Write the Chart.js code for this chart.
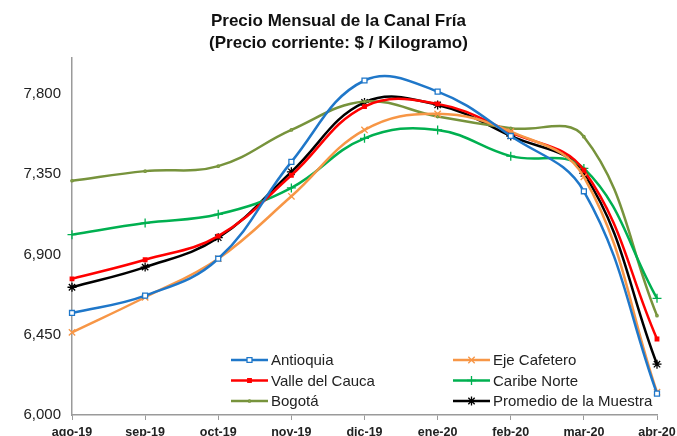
<!DOCTYPE html>
<html>
<head>
<meta charset="utf-8">
<script src="https://cdn.jsdelivr.net/npm/chart.js@4"></script>
<style>
  body { margin: 0; background: #fff; }
  #wrap { width: 677px; height: 436px; }
</style>
</head>
<body>
<div id="wrap"><canvas id="myChart"></canvas></div>
<script>
const months = ["ago-19", "sep-19", "oct-19", "nov-19", "dic-19", "ene-20", "feb-20", "mar-20", "abr-20"];
const antioquia = [6572, 6669, 6876, 7419, 7875, 7813, 7564, 7254, 6120];
const ejeCafetero = [6463, 6660, 6876, 7226, 7598, 7688, 7588, 7335, 6128];
const valleDelCauca = [6763, 6870, 7003, 7344, 7729, 7744, 7584, 7372, 6426];
const caribeNorte = [7011, 7076, 7125, 7273, 7551, 7598, 7451, 7382, 6654];
const bogota = [7313, 7367, 7395, 7598, 7757, 7673, 7607, 7560, 6557];
const promedio = [6716, 6829, 6994, 7363, 7752, 7738, 7564, 7354, 6285];
const yTicks = [6000, 6450, 6900, 7350, 7800];
const titleLines = ["Precio Mensual de la Canal Fría", "(Precio corriente: $ / Kilogramo)"];

Chart.defaults.font.family = "'Liberation Sans', Arial, sans-serif";
Chart.defaults.color = "#222";

function series(label, data, color, style, radius, fill) {
  return {
    label: label,
    data: data,
    borderColor: color,
    backgroundColor: color,
    borderWidth: 2.5,
    tension: 0.4,
    pointStyle: style,
    pointRadius: radius,
    pointBorderColor: color,
    pointBackgroundColor: fill,
    pointBorderWidth: 1.3,
  };
}

// legend drawn inside the plot, two columns like the original
const insideLegend = {
  id: "insideLegend",
  afterDraw(chart) {
    const ctx = chart.ctx;
    ctx.save();
    chart.data.datasets.forEach((ds, i) => {
      const x0 = i % 2 === 0 ? 231 : 453;
      const y = 360 + Math.floor(i / 2) * 20.5;
      ctx.strokeStyle = ds.borderColor;
      ctx.lineWidth = 2.5;
      ctx.beginPath();
      ctx.moveTo(x0, y);
      ctx.lineTo(x0 + 37, y);
      ctx.stroke();
      ctx.fillStyle = ds.pointBackgroundColor;
      ctx.strokeStyle = ds.borderColor;
      ctx.lineWidth = 1.3;
      Chart.helpers.drawPoint(ctx, {
        pointStyle: ds.pointStyle,
        radius: ds.pointRadius,
        rotation: 0,
        borderWidth: 1.3,
      }, x0 + 18.5, y);
      ctx.fillStyle = "#222";
      ctx.font = "15px 'Liberation Sans', Arial, sans-serif";
      ctx.textBaseline = "middle";
      ctx.textAlign = "left";
      ctx.fillText(ds.label, x0 + 40, y + 1);
    });
    ctx.restore();
  },
};

var ctx = document.getElementById("myChart").getContext("2d");
var chart = new Chart(ctx, {
  type: "line",
  data: {
    labels: months,
    datasets: [
      series("Antioquia", antioquia, "#1F77C9", "rect", 3.5, "#ffffff"),
      series("Eje Cafetero", ejeCafetero, "#F79646", "crossRot", 4.5, "#F79646"),
      series("Valle del Cauca", valleDelCauca, "#FF0000", "rect", 2.5, "#FF0000"),
      series("Caribe Norte", caribeNorte, "#00B050", "cross", 4.5, "#00B050"),
      series("Bogotá", bogota, "#77933C", "circle", 1.2, "#9BBB59"),
      series("Promedio de la Muestra", promedio, "#000000", "star", 4.5, "#000000"),
    ],
  },
  options: {
    animation: { duration: 0 },
    responsive: true,
    maintainAspectRatio: false,
    layout: { padding: 0 },
    plugins: {
      legend: { display: false },
      tooltip: { enabled: false },
      title: {
        display: true,
        text: titleLines,
        color: "#111",
        font: { size: 17, weight: "bold", lineHeight: 1.3 },
        padding: { top: 10, bottom: 4 },
      },
    },
    scales: {
      x: {
        offset: false,
        grid: { display: true, drawOnChartArea: false, drawTicks: true, tickLength: 5, color: "#9a9a9a" },
        border: { display: true, color: "#9a9a9a", width: 1.5 },
        ticks: { font: { size: 12.5, weight: "bold" }, padding: 5, maxRotation: 0, autoSkip: false },
        afterFit(scale) {
          scale.height = 21;
          scale.paddingLeft = 0;
          scale.paddingRight = 20;
        },
      },
      y: {
        min: 6000,
        max: 8000,
        grid: { display: false },
        border: { display: true, color: "#9a9a9a", width: 1.5 },
        ticks: {
          font: { size: 15 },
          padding: 3,
          callback: (v) => v.toLocaleString("en-US"),
        },
        afterBuildTicks(scale) { scale.ticks = yTicks.map((v) => ({ value: v })); },
        afterFit(scale) { scale.width = 72; },
      },
    },
  },
  plugins: [insideLegend],
});
</script>
</body>
</html>
